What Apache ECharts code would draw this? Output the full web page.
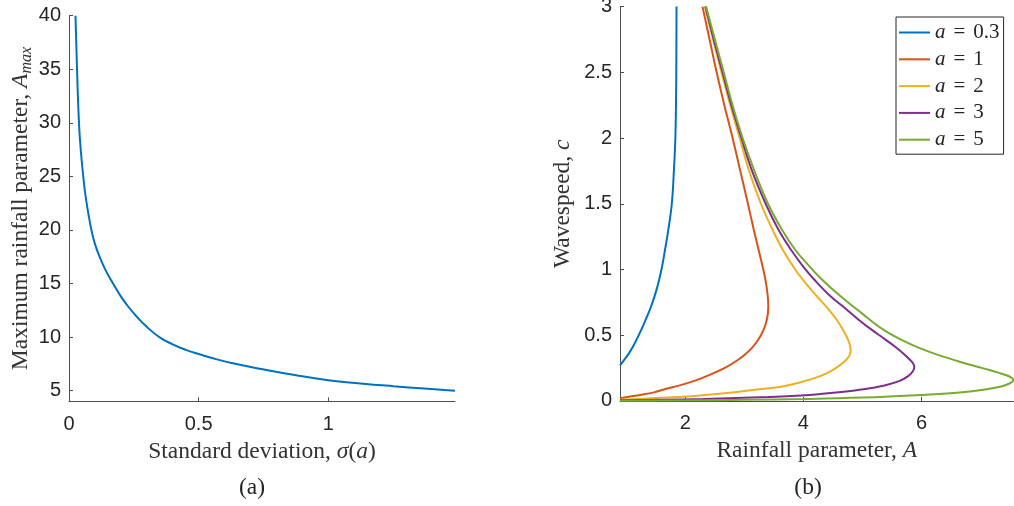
<!DOCTYPE html>
<html>
<head>
<meta charset="utf-8">
<script src="https://cdn.jsdelivr.net/npm/echarts@6/dist/echarts.min.js"></script>
<style>
  html, body { margin: 0; padding: 0; background: #fff; }
  #chart { width: 1014px; height: 506px; }
</style>
</head>
<body>
<div id="chart"></div>
<script>
// (a) maximum rainfall parameter vs standard deviation
var sigmaVals = [0.025, 0.031, 0.0385, 0.046, 0.055, 0.061, 0.068, 0.077, 0.0865, 0.1, 0.119, 0.14, 0.17, 0.2, 0.222, 0.26, 0.3,
  0.35, 0.4, 0.453, 0.5, 0.582, 0.65, 0.736, 0.865, 1.0, 1.125, 1.251, 1.37, 1.489]
var amaxVals = [40, 35, 30, 27.3, 25, 23.7, 22.5, 21.2, 20, 18.7, 17.45, 16.3, 15, 13.8, 13.05, 11.95, 10.96,
  9.98, 9.33, 8.79, 8.42, 7.85, 7.47, 7.05, 6.48, 5.98, 5.68, 5.42, 5.2, 4.99]
var leftYTicks = [5, 10, 15, 20, 25, 30, 35, 40]
var leftXTicks = [0, 0.5, 1]

// (b) wavespeed c against rainfall parameter A, points ordered along each curve
var a03A = [0.892, 0.96, 1.04, 1.12, 1.21, 1.31, 1.42, 1.52, 1.595, 1.655, 1.71, 1.77, 1.805, 1.83, 1.842, 1.847, 1.85]
var a03C = [0.27, 0.31, 0.36, 0.42, 0.5, 0.6, 0.72, 0.86, 1.0, 1.15, 1.3, 1.5, 1.75, 2.0, 2.3, 2.6, 3.0]

var a1A = [0.892, 1.02, 1.24, 1.47, 1.66, 1.92, 2.2, 2.42, 2.66, 2.85, 3.0, 3.12, 3.21, 3.28, 3.35, 3.39, 3.405, 3.395,
  3.365, 3.32, 3.24, 3.16, 3.06, 2.93, 2.80, 2.66, 2.53, 2.41, 2.29]
var a1C = [0.02, 0.03, 0.045, 0.065, 0.09, 0.12, 0.16, 0.2, 0.25, 0.3, 0.35, 0.4, 0.45, 0.5, 0.57, 0.64, 0.72, 0.8,
  0.9, 1.0, 1.15, 1.3, 1.5, 1.75, 2.0, 2.25, 2.5, 2.75, 3.0]

var a2A = [0.892, 1.2, 1.65, 2.2, 2.7, 3.18, 3.62, 3.95, 4.2, 4.4, 4.55, 4.67, 4.74, 4.785, 4.80, 4.795, 4.77, 4.72, 4.59,
  4.42, 4.22, 4.03, 3.86, 3.65, 3.48, 3.28, 3.08, 2.92, 2.76, 2.61, 2.47, 2.33]
var a2C = [0.008, 0.015, 0.025, 0.04, 0.06, 0.085, 0.108, 0.142, 0.175, 0.212, 0.25, 0.29, 0.32, 0.35, 0.38, 0.41, 0.45, 0.5, 0.6,
  0.7, 0.8, 0.9, 1.0, 1.15, 1.3, 1.5, 1.75, 2.0, 2.25, 2.5, 2.75, 3.0]

var a3A = [0.892, 1.6, 2.3, 3.4, 4.1, 4.6, 5.05, 5.35, 5.62, 5.78, 5.86, 5.88, 5.85, 5.80, 5.72, 5.56, 5.38, 5.16, 4.93,
  4.72, 4.45, 4.19, 4.00, 3.79, 3.58, 3.36, 3.13, 2.95, 2.78, 2.63, 2.48, 2.34]
var a3C = [0.004, 0.009, 0.015, 0.03, 0.045, 0.065, 0.09, 0.115, 0.15, 0.19, 0.23, 0.26, 0.29, 0.315, 0.35, 0.41, 0.47, 0.54, 0.62,
  0.7, 0.8, 0.92, 1.02, 1.15, 1.3, 1.5, 1.75, 2.0, 2.25, 2.5, 2.75, 3.0]

var a5A = [0.892, 2.0, 3.0, 4.0, 5.0, 6.0, 6.6, 7.05, 7.35, 7.48, 7.54, 7.555, 7.53, 7.44, 7.3, 7.15, 6.95, 6.75, 6.28,
  5.95, 5.68, 5.36, 4.98, 4.62, 4.30, 4.05, 3.86, 3.64, 3.40, 3.17, 2.97, 2.80, 2.65, 2.50, 2.35]
var a5C = [0.001, 0.004, 0.008, 0.014, 0.025, 0.045, 0.062, 0.085, 0.11, 0.13, 0.145, 0.16, 0.175, 0.195, 0.215, 0.235, 0.26,
  0.285, 0.35, 0.405, 0.46, 0.54, 0.67, 0.8, 0.93, 1.05, 1.15, 1.3, 1.5, 1.75, 2.0, 2.25, 2.5, 2.75, 3.0]

var aLabels = ['0.3', '1', '2', '3', '5']
var rightXTicks = [2, 4, 6]

var colors = ['#0072BD', '#D95319', '#EDB120', '#7E2F8E', '#77AC30']
var serif = 'Liberation Serif'
var sans = 'Liberation Sans'

function pairs(xs, ys) {
  return xs.map(function (x, i) { return [x, ys[i]] })
}

var chart = echarts.init(document.getElementById('chart'))

var axisLineStyle = { color: '#4d4d4d', width: 1 }
var tickLabel = { color: '#262626', fontFamily: sans, fontSize: 20 }
var nameStyle = {
  color: '#333',
  fontFamily: serif,
  fontSize: 23.5,
  rich: {
    i: { fontFamily: serif, fontStyle: 'italic', fontSize: 23.5, color: '#333' },
    sub: { fontFamily: serif, fontStyle: 'italic', fontSize: 16, color: '#333', verticalAlign: 'top', padding: [13, 0, 0, 0] }
  }
}

function valueAxis(opt) {
  return Object.assign({
    type: 'value',
    axisLine: { show: true, onZero: false, lineStyle: axisLineStyle },
    axisTick: { show: true, inside: true, length: 4, lineStyle: axisLineStyle },
    splitLine: { show: false },
    nameLocation: 'middle',
    nameTextStyle: nameStyle
  }, opt)
}

var curves = [[a03A, a03C], [a1A, a1C], [a2A, a2C], [a3A, a3C], [a5A, a5C]]

var rightSeries = curves.map(function (cv, i) {
  return {
    name: 'a = ' + aLabels[i],
    type: 'line',
    xAxisIndex: 1,
    yAxisIndex: 1,
    data: pairs(cv[0], cv[1]),
    showSymbol: false,
    symbol: 'none',
    smooth: 0.4,
    color: colors[i],
    lineStyle: { width: 2, color: colors[i] }
  }
})

var option = {
  animation: false,
  backgroundColor: '#fff',
  grid: [
    { left: 69, top: 15.7, width: 386, height: 385.7, outerBoundsMode: 'none' },
    { left: 620, top: 6.6, width: 393.5, height: 394.3, outerBoundsMode: 'none' }
  ],
  xAxis: [
    valueAxis({
      gridIndex: 0, min: 0, max: 1.489,
      axisTick: { show: true, inside: true, length: 4, lineStyle: axisLineStyle, customValues: leftXTicks },
      axisLabel: Object.assign({ margin: 13, customValues: leftXTicks }, tickLabel),
      name: 'Standard deviation, {i|σ}({i|a})',
      nameGap: 38
    }),
    valueAxis({
      gridIndex: 1, min: 0.892, max: 7.56,
      axisTick: { show: true, inside: true, length: 4, lineStyle: axisLineStyle, customValues: rightXTicks },
      axisLabel: Object.assign({ margin: 13, customValues: rightXTicks }, tickLabel),
      name: 'Rainfall parameter, {i|A}',
      nameGap: 38
    })
  ],
  yAxis: [
    valueAxis({
      gridIndex: 0, min: 4, max: 40,
      axisTick: { show: true, inside: true, length: 4, lineStyle: axisLineStyle, customValues: leftYTicks },
      axisLabel: Object.assign({ margin: 8, customValues: leftYTicks }, tickLabel),
      name: 'Maximum rainfall parameter, {i|A}{sub|max}',
      nameGap: 33
    }),
    valueAxis({
      gridIndex: 1, min: 0, max: 3, interval: 0.5,
      axisLabel: Object.assign({ margin: 8 }, tickLabel),
      name: 'Wavespeed, {i|c}',
      nameGap: 45
    })
  ],
  legend: {
    orient: 'vertical',
    left: 896,
    top: 17,
    padding: [5, 4, 4, 3],
    backgroundColor: '#fff',
    borderColor: '#262626',
    borderWidth: 1,
    borderRadius: 0,
    icon: 'rect',
    itemWidth: 31,
    itemHeight: 2,
    itemGap: 5.8,
    itemTextGap: 3,
    data: aLabels.map(function (v) { return 'a = ' + v }),
    formatter: function (name) {
      return '{i|a}{e|=}{n|' + name.split('= ')[1] + '}'
    },
    textStyle: {
      fontFamily: serif,
      fontSize: 21,
      lineHeight: 20,
      color: '#262626',
      rich: {
        i: { fontFamily: serif, fontStyle: 'italic', fontSize: 21, lineHeight: 20, color: '#262626' },
        e: { fontFamily: serif, fontSize: 21, lineHeight: 20, color: '#262626', padding: [0, 8, 0, 8] },
        n: { fontFamily: serif, fontSize: 21, lineHeight: 20, color: '#262626' }
      }
    }
  },
  graphic: [
    { type: 'text', x: 252, y: 488, style: { text: '(a)', fontFamily: serif, fontSize: 23.5, fill: '#262626', align: 'center', verticalAlign: 'middle' } },
    { type: 'text', x: 808, y: 488, style: { text: '(b)', fontFamily: serif, fontSize: 23.5, fill: '#262626', align: 'center', verticalAlign: 'middle' } }
  ],
  series: [
    {
      name: 'Amax',
      type: 'line',
      xAxisIndex: 0,
      yAxisIndex: 0,
      data: pairs(sigmaVals, amaxVals),
      showSymbol: false,
      symbol: 'none',
      smooth: 0.5,
      color: colors[0],
      lineStyle: { width: 2, color: colors[0] }
    }
  ].concat(rightSeries)
}

chart.setOption(option)
</script>
</body>
</html>
